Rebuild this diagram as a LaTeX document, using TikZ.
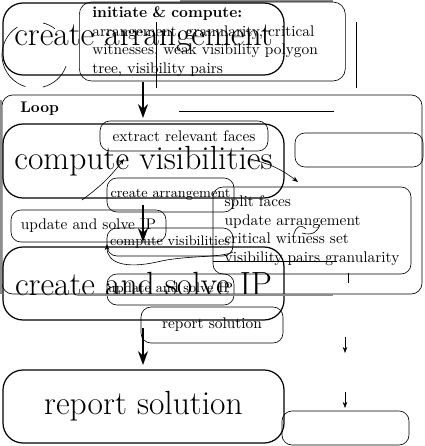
\documentclass[tikz,border=0pt]{standalone}
\usetikzlibrary{arrows.meta}
\begin{document}
\begin{tikzpicture}[x=0.65pt,y=-0.65pt,
  thickbox/.style={draw,line width=0.8pt,rounded corners=13pt,font=\fontsize{21.8pt}{26pt}\selectfont,inner sep=0pt},
  thinbox/.style={draw,line width=0.4pt,rounded corners=6.5pt,inner sep=0pt},
  bigarrow/.style={line width=0.9pt,-{Stealth[length=9pt,width=6.5pt]}},
  smallarrow/.style={line width=0.4pt,-{Stealth[length=4pt,width=3pt]}},
  thinline/.style={line width=0.4pt},
  greyline/.style={line width=0.8pt,black!45}]
\useasboundingbox (0,0) rectangle (424,446);
% top region
\draw[greyline] (180,1) -- (333,1);
\node[thickbox,minimum width=182.65pt,minimum height=46.8pt] (ca) at (143.5,39) {create arrangement};
\node[thinbox,rounded corners=8pt,minimum height=51.35pt,inner xsep=8.45pt,inner ysep=2pt,text width=156pt,align=left,anchor=west] (init) at (79,41.5)
  {\textbf{initiate \& compute:}\\arrangement, granularity, critical\\witnesses, weak visibility polygon\\tree, visibility pairs};
\coordinate (cc) at (35,55);
\draw[thinline] ([shift={(122:21.45pt)}]cc) arc[start angle=122,end angle=253,radius=21.45pt];
\draw[thinline] ([shift={(284:21.45pt)}]cc) arc[start angle=284,end angle=340,radius=21.45pt];
\draw[thinline] ([shift={(53:21.45pt)}]cc) arc[start angle=53,end angle=76,radius=21.45pt];
\coordinate (v1a) at (156,22); \coordinate (v1b) at (156,88);
\coordinate (v2a) at (356,22); \coordinate (v2b) at (356,88);
\draw[thinline] (v1a) -- (v1b);
\draw[thinline] (v2a) -- (v2b);
\coordinate (a1s) at (143,82); \coordinate (a1e) at (143,118);
\draw[bigarrow] (a1s) -- (a1e);
% loop region
\node[thinbox,rounded corners=7pt,minimum width=273pt,minimum height=129.35pt] (loop) at (212,194.5) {};
\draw[greyline] (1,100) -- (1,294);
\node[font=\bfseries,anchor=west,inner sep=0pt] (looplbl) at (20,109) {Loop};
\coordinate (h1a) at (179,111); \coordinate (h1b) at (334,111);
\draw[thinline] (h1a) -- (h1b);
\node[thickbox,minimum width=182.65pt,minimum height=48.1pt] (cv) at (143.5,161) {compute visibilities};
\node[thinbox,minimum width=109.2pt,minimum height=19.5pt] (erf) at (184,136) {extract relevant faces};
\node[thinbox,minimum width=83.2pt,minimum height=22.1pt] (e1) at (359,150) {};
\coordinate (c1s) at (250,159); \coordinate (c1e) at (298,182);
\draw[smallarrow] (c1s) to[bend left=12] (c1e);
\coordinate (c2s) at (82,200); \coordinate (c2e) at (124,159);
\draw[smallarrow] (c2s) to[bend right=8] (c2e);
\node[thinbox,minimum width=82.55pt,minimum height=22.1pt,font=\small] (ca2) at (170.5,195) {create arrangement};
\node[thinbox,minimum width=100.75pt,minimum height=20.8pt] (uas) at (88.5,226) {update and solve IP};
\node[thinbox,minimum width=81.9pt,minimum height=18.2pt,font=\small] (cv2) at (170,242) {compute visibilities};
\coordinate (w0) at (233,252); \coordinate (w1) at (107,244);
\draw[smallarrow] (w0) .. controls (222,258) and (185,255) .. (157,262) .. controls (125,269) and (107,263) .. (w1);
\coordinate (a2s) at (143,205); \coordinate (a2e) at (143,242);
\draw[bigarrow] (a2s) -- (a2e);
\node[thickbox,minimum width=182.65pt,minimum height=47.45pt] (cs) at (143.5,283.5) {create and solve IP};
\node[thinbox,minimum width=128.7pt,minimum height=56.55pt,align=left] (split) at (312,230.5)
  {split faces\\update arrangement\\critical witness set\\visibility pairs granularity};
\coordinate (h2a) at (213,261); \coordinate (h2b) at (337,261);
\draw[thinline] (h2a) -- (h2b);
\draw[thinline] (294,234) .. controls (296,226) and (301,224) .. (306,229);
\draw[thinline] (302,233) .. controls (312,236) and (318,232) .. (320,224);
\coordinate (t1) at (348,273); \coordinate (t2) at (348,283);
\draw[thinline] (t1) -- (t2);
\node[thinbox,minimum width=82.55pt,minimum height=20.15pt,font=\small] (uas2) at (170.5,289.5) {update and solve IP};
\coordinate (h3a) at (77,295); \coordinate (h3b) at (333,295);
\draw[greyline] (h3a) -- (h3b);
% bottom region
\node[thinbox,minimum width=92.3pt,minimum height=23.4pt] (rs2) at (212,325) {report solution};
\coordinate (a3s) at (143,328); \coordinate (a3e) at (143,365);
\draw[bigarrow] (a3s) -- (a3e);
\node[thickbox,minimum width=182.65pt,minimum height=47.45pt] (rs) at (143.5,406.5) {report solution};
\node[thinbox,minimum width=82.55pt,minimum height=22.1pt] (e2) at (345.5,428) {};
\coordinate (s1a) at (345,337); \coordinate (s1b) at (345,353);
\coordinate (s2a) at (345,392); \coordinate (s2b) at (345,408);
\draw[smallarrow] (s1a) -- (s1b);
\draw[smallarrow] (s2a) -- (s2b);
\end{tikzpicture}
\end{document}
